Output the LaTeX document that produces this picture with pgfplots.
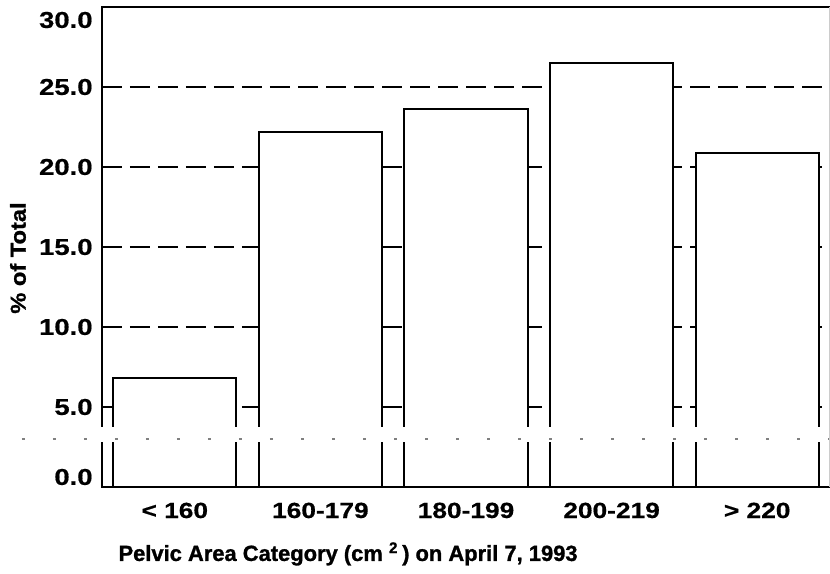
\documentclass[border=0pt]{standalone}
\usepackage{fontspec}
\setmainfont{Liberation Sans}
\newfontfamily\widefont{Liberation Sans}[FakeStretch=1.2, BoldFeatures={FakeBold=0.6}]
\newfontfamily\heavyfont{Liberation Sans}[BoldFeatures={FakeBold=1.2}]
\newfontfamily\wideheavy{Liberation Sans}[FakeStretch=1.1, BoldFeatures={FakeBold=1.2}]
\usepackage{pgfplots}
\pgfplotsset{compat=1.18}
\begin{document}
\begin{tikzpicture}
\begin{axis}[
  at={(0,0)}, anchor=south west,
  scale only axis, width=364bp, height=240bp,
  xmin=-0.5, xmax=4.5, ymin=0, ymax=30,
  clip=false,
  xtick={0,1,2,3,4},
  xticklabels={{< 160},{160-179},{180-199},{200-219},{> 220}},
  ytick={0,5,10,15,20,25,30},
  major tick length=0pt,
  /pgf/number format/.cd, fixed, fixed zerofill, precision=1, assume math mode=true,
  /pgfplots/.cd,
  yticklabel style={font=\widefont\fontsize{11.5}{13}\selectfont\bfseries, anchor=east, inner sep=0pt, xshift=-4.5bp,
    yshift={ifthenelse(\ticknum==0,5,ifthenelse(\ticknum==6,-6.5,0))*1bp}},
  xticklabel style={font=\widefont\fontsize{11}{13}\selectfont\bfseries, anchor=base, inner sep=0pt, yshift=-15.5bp},
  ymajorgrids,
  grid style={black, line width=0.75bp, dash pattern=on 10bp off 4bp},
  axis line style={line width=1bp},
  xlabel={Pelvic Area Category (cm \textsuperscript{2}\,) on April 7, 1993},
  ylabel={\% of Total},
  xlabel style={font=\heavyfont\fontsize{11}{13}\selectfont\bfseries, at={(axis description cs:0.338,-0.154)}, anchor=base, inner sep=0pt},
  ylabel style={font=\wideheavy\fontsize{10.8}{13}\selectfont\bfseries, at={(axis description cs:-0.1154,0.477)}, anchor=center, inner sep=0pt},
]
\addplot[ybar, bar width=0.845, fill=white, draw=black, line width=1bp]
  coordinates {(0,6.8) (1,22.2) (2,23.6) (3,26.5) (4,20.9)};
\fill[white] ([xshift=-2bp]axis cs:-0.5,2.8) rectangle ([xshift=2bp]axis cs:4.5,3.75);
\draw[gray, line width=0.6bp, dash pattern=on 1.5bp off 14bp] ([xshift=-40bp]axis cs:-0.5,3) -- (axis cs:4.5,3);
\draw[white, line width=1.2bp] (rel axis cs:1,0) -- (rel axis cs:1,1);
\draw[gray!40, line width=0.6bp] ([xshift=-0.4bp]rel axis cs:1,0) -- ([xshift=-0.4bp]rel axis cs:1,1);
\end{axis}
\pgfresetboundingbox
\path[use as bounding box] (-51bp,-43.5bp) rectangle (364bp,243.5bp);
\end{tikzpicture}
\end{document}
